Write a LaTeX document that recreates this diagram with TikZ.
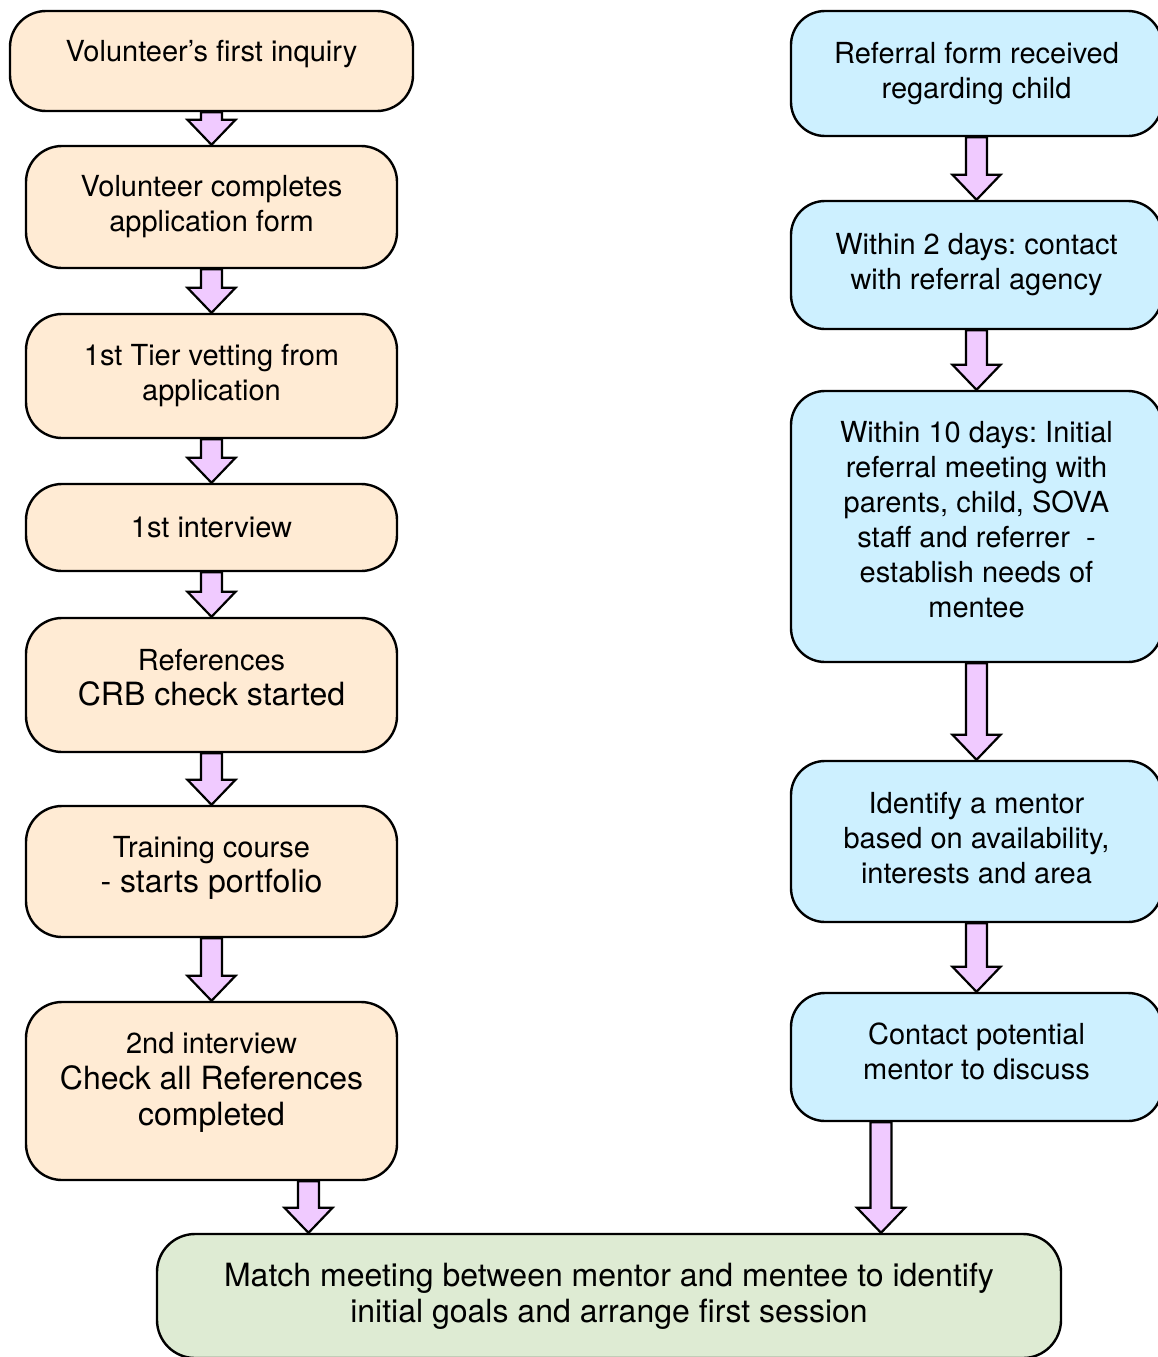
\documentclass[tikz,border=0pt]{standalone}
\usepackage{fontspec}
\setmainfont{TeX Gyre Heros}
\usetikzlibrary{calc}

\definecolor{volfill}{RGB}{255,235,212}
\definecolor{reffill}{RGB}{205,240,255}
\definecolor{matchfill}{RGB}{222,235,211}
\definecolor{arrfill}{RGB}{240,202,255}

% block arrow from the bottom of one node to the top of the next
\newcommand{\flowarrow}[3][0]{%
  \draw[blk] let \p1=($(#2.south)+(#1,0)$), \p2=(#3.north) in
    (\x1-10.5pt,\y1) -- (\x1-10.5pt,\y2+25pt) -- (\x1-24pt,\y2+25pt) -- (\x1,\y2)
    -- (\x1+24pt,\y2+25pt) -- (\x1+10.5pt,\y2+25pt) -- (\x1+10.5pt,\y1) -- cycle;}

\begin{document}
\begin{tikzpicture}[x=1pt, y=-1pt,
  every node/.style={font=\fontsize{29}{35}\selectfont\frenchspacing},
  vbox/.style={draw, line width=2.4pt, fill=volfill, rectangle, rounded corners=36pt,
               minimum width=371pt, align=center, inner sep=4pt},
  rbox/.style={draw, line width=2.4pt, fill=reffill, rectangle, rounded corners=34pt,
               minimum width=371pt, align=center, inner sep=4pt},
  mbox/.style={draw, line width=2.4pt, fill=matchfill, rectangle, rounded corners=38pt,
               minimum width=904pt, minimum height=124pt, align=center, inner sep=4pt},
  big/.style={font=\fontsize{32}{36}\selectfont\frenchspacing},
  blk/.style={draw, line width=2.2pt, fill=arrfill, line join=miter}]

\useasboundingbox (0,0) rectangle (1157,1357);

%% --- Volunteer column ---
\node[vbox, minimum width=403pt, minimum height=100pt, text depth=20pt] (inq) at (211.5, 61) {Volunteer’s first inquiry};
\node[vbox, minimum height=122pt] (appl) at (211.5, 207)   {Volunteer completes\\application form};
\node[vbox, minimum height=124pt] (vet)  at (211.5, 376)   {1st Tier vetting from\\application};
\node[vbox, minimum height=87pt]  (int1) at (211.5, 527.5) {1st interview};
\node[vbox, minimum height=134pt, text depth=16pt] (refs) at (211.5, 685) {References\\{\fontsize{32}{36}\selectfont CRB check started}};
\node[vbox, minimum height=131pt, text depth=14pt] (trn)  at (211.5, 871.5) {Training course\\{\fontsize{32}{36}\selectfont - starts portfolio}};
\node[vbox, minimum height=178pt, big, text depth=24pt] (int2) at (211.5,1091) {{\fontsize{29}{35}\selectfont 2nd interview}\\Check all References\\completed};

%% --- Referral column ---
\node[rbox, minimum height=125pt] (rcv)  at (976.5,  73.5) {Referral form received\\regarding child};
\node[rbox, minimum height=128pt] (agcy) at (976.5, 265)   {Within 2 days: contact\\with referral agency};
\node[rbox, minimum height=271pt, text depth=14pt] (meet) at (976.5, 526.5) {Within 10 days: Initial\\referral meeting with\\parents, child, SOVA\\staff and referrer~ -\\establish needs of\\mentee};
\node[rbox, minimum height=161pt, text depth=8pt] (ment) at (976.5, 841.5) {Identify a mentor\\based on availability,\\interests and area};
\node[rbox, minimum height=128pt, text depth=12pt] (cont) at (976.5,1057) {Contact potential\\mentor to discuss};

%% --- Match ---
\node[mbox, big] (match) at (609,1296) {Match meeting between mentor and mentee to identify\\initial goals and arrange first session};

%% --- Arrows: volunteer ---
\flowarrow{inq}{appl}
\flowarrow{appl}{vet}
\flowarrow{vet}{int1}
\flowarrow{int1}{refs}
\flowarrow{refs}{trn}
\flowarrow{trn}{int2}
\flowarrow[97]{int2}{match}

%% --- Arrows: referral ---
\flowarrow{rcv}{agcy}
\flowarrow{agcy}{meet}
\flowarrow{meet}{ment}
\flowarrow{ment}{cont}
\flowarrow[-95.5]{cont}{match}
\end{tikzpicture}
\end{document}
